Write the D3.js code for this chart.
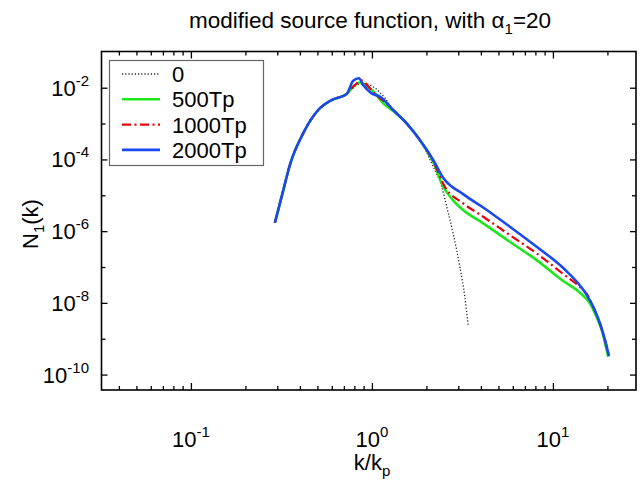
<!DOCTYPE html>
<html><head><meta charset="utf-8">
<script src="https://cdn.jsdelivr.net/npm/d3@7"></script>
<style>body{margin:0;background:#fff}svg{display:block}text{font-family:"Liberation Sans",Arial,sans-serif;fill:#000}</style>
</head><body><svg id="c" width="644" height="482"></svg>
<script>
// ---- data ----
const seriesNames = ["0", "500Tp", "1000Tp", "2000Tp"];
const kLeft = [0.291, 0.324, 0.352, 0.417, 0.505, 0.599, 0.725];
const nLeft = [1.71e-6, 1.40e-5, 6.98e-5, 5.35e-4, 2.39e-3, 4.54e-3, 6.67e-3];

const k0 = [0.776, 0.859, 0.927, 1.039, 1.18, 1.311, 1.555, 1.841, 2.181, 2.43, 2.59, 2.81, 3.06, 3.26, 3.40];
const n0 = [9.2e-3, 1.27e-2, 1.27e-2, 9.8e-3, 5.16e-3, 2.39e-3, 1.02e-3, 3.48e-4, 6.25e-5, 1.73e-5, 4.80e-6, 8.69e-7, 1.02e-7, 1.48e-8, 2.40e-9];

const k500 = [0.776, 0.859, 0.927, 1.0, 1.155, 1.311, 1.555, 1.841, 2.181, 2.48, 2.80, 3.19, 4.12, 5.78, 8.13, 11.4, 14.1, 16.0, 17.4, 18.6, 20.2];
const n500 = [9.8e-3, 1.40e-2, 1.11e-2, 8.63e-3, 3.67e-3, 2.24e-3, 1.02e-3, 3.48e-4, 8.46e-5, 1.73e-5, 7.37e-6, 3.88e-6, 1.65e-6, 5.06e-7, 1.56e-7, 4.06e-8, 1.92e-8, 9.7e-9, 4.09e-9, 1.74e-9, 3.14e-10];

const k1000 = [0.756, 0.816, 0.881, 0.950, 1.039, 1.18, 1.311, 1.555, 1.841, 2.181, 2.53, 3.19, 4.12, 5.78, 8.13, 11.4, 14.1, 15.4, 16.7, 18.2, 19.4, 20.4];
const n1000 = [8.63e-3, 1.27e-2, 1.59e-2, 1.11e-2, 6.67e-3, 3.99e-3, 2.39e-3, 1.02e-3, 3.48e-4, 9.02e-5, 1.73e-5, 5.96e-6, 2.52e-6, 7.78e-7, 2.40e-7, 6.36e-8, 2.76e-8, 1.76e-8, 7.78e-9, 2.68e-9, 9.16e-10, 3.28e-10];

const k2000 = [0.788, 0.848, 0.895, 0.996, 1.107, 1.311, 1.555, 1.841, 2.181, 2.48, 3.19, 4.12, 5.78, 8.13, 11.4, 15.0, 16.7, 18.2, 19.4, 20.4];
const n2000 = [1.57e-2, 1.83e-2, 1.19e-2, 6.98e-3, 5.61e-3, 2.39e-3, 1.02e-3, 3.48e-4, 9.62e-5, 3.03e-5, 1.08e-5, 4.55e-6, 1.33e-6, 3.67e-7, 9.35e-8, 2.00e-8, 7.78e-9, 2.68e-9, 9.16e-10, 3.28e-10];

const xMajor = [0.1, 1, 10];
const xMajorExp = ["-1", "0", "1"];
const yMajor = [1e-2, 1e-4, 1e-6, 1e-8, 1e-10];
const yMajorExp = ["-2", "-4", "-6", "-8", "-10"];
const yMinor = [1e-3, 1e-5, 1e-7, 1e-9];

// ---- layout ----
const L = 101.5, R = 636, T = 51.5, B = 390;
const svg = d3.select("#c");
const x = d3.scaleLog().domain([Math.pow(10, -1.494), Math.pow(10, 1.459)]).range([L, R]);
const y = d3.scaleLog().domain([Math.pow(10, -10.43), Math.pow(10, -0.99)]).range([B, T]);

const xMinor = [];
[0.01, 0.1, 1, 10].forEach(d => { for (let i = 2; i <= 9; i++) { const v = d * i; if (v > x.domain()[0] && v < x.domain()[1]) xMinor.push(v); } });

function axis(gen, tr) {
  const g = svg.append("g").attr("transform", tr).call(gen);
  g.select(".domain").remove();
  g.selectAll("text").remove();
  g.selectAll("line").attr("stroke", "#000").attr("stroke-width", 1.3);
  return g;
}
axis(d3.axisBottom(x).tickValues(xMajor).tickSize(-7), `translate(0,${B})`);
axis(d3.axisBottom(x).tickValues(xMinor).tickSize(-4), `translate(0,${B})`);
axis(d3.axisTop(x).tickValues(xMajor).tickSize(-7), `translate(0,${T})`);
axis(d3.axisTop(x).tickValues(xMinor).tickSize(-4), `translate(0,${T})`);
axis(d3.axisLeft(y).tickValues(yMajor).tickSize(-6), `translate(${L},0)`);
axis(d3.axisLeft(y).tickValues(yMinor).tickSize(-4), `translate(${L},0)`);
axis(d3.axisRight(y).tickValues(yMajor).tickSize(-6), `translate(${R},0)`);
axis(d3.axisRight(y).tickValues(yMinor).tickSize(-4), `translate(${R},0)`);

// lines
const line = d3.line().x(d => x(d[0])).y(d => y(d[1])).curve(d3.curveMonotoneX);
function pts(ks, ns) { return kLeft.map((k, i) => [k, nLeft[i]]).concat(ks.map((k, i) => [k, ns[i]])); }
const styles = [
  {k: k0, n: n0, color: "#222", w: 1.3, dash: "1.2,2"},
  {k: k500, n: n500, color: "#1ee61e", w: 2.6, dash: null},
  {k: k1000, n: n1000, color: "#e8000b", w: 2.2, dash: "9,3.5,2,3.5"},
  {k: k2000, n: n2000, color: "#1a47ee", w: 2.6, dash: null}
];
styles.forEach(s => {
  svg.append("path").datum(pts(s.k, s.n)).attr("d", line)
    .attr("fill", "none").attr("stroke", s.color).attr("stroke-width", s.w)
    .attr("stroke-dasharray", s.dash).attr("stroke-linejoin", "round");
});

// frame
svg.append("rect").attr("x", L).attr("y", T).attr("width", R - L).attr("height", B - T)
  .attr("fill", "none").attr("stroke", "#000").attr("stroke-width", 1.6);

// tick labels
xMajor.forEach((v, i) => {
  const t = svg.append("text").attr("x", x(v)).attr("y", 447).attr("text-anchor", "middle").attr("font-size", 22);
  t.append("tspan").text("10");
  t.append("tspan").attr("dy", -10).attr("font-size", 15).text(xMajorExp[i]);
});
yMajor.forEach((v, i) => {
  const t = svg.append("text").attr("x", 89).attr("y", y(v) + 8).attr("text-anchor", "end").attr("font-size", 22);
  t.append("tspan").text("10");
  t.append("tspan").attr("dy", -10).attr("font-size", 15).text(yMajorExp[i]);
});

// axis titles
const xl = svg.append("text").attr("x", 372).attr("y", 470).attr("text-anchor", "middle").attr("font-size", 22);
xl.append("tspan").text("k/k");
xl.append("tspan").attr("dy", 6).attr("font-size", 15).text("p");

const yl = svg.append("text").attr("transform", "translate(38,224) rotate(-90)").attr("text-anchor", "middle").attr("font-size", 22);
yl.append("tspan").text("N");
yl.append("tspan").attr("dy", 6).attr("font-size", 15).text("1");
yl.append("tspan").attr("dy", -6).text("(k)");

// title
const tt = svg.append("text").attr("x", 370).attr("y", 28).attr("text-anchor", "middle").attr("font-size", 22.5);
tt.append("tspan").text("modified source function, with \u03B1");
tt.append("tspan").attr("dy", 6).attr("font-size", 15).text("1");
tt.append("tspan").attr("dy", -6).text("=20");

// legend
svg.append("rect").attr("x", 109.5).attr("y", 60.5).attr("width", 154).attr("height", 105)
  .attr("fill", "#fff").attr("stroke", "#666").attr("stroke-width", 1.2);
seriesNames.forEach((name, i) => {
  const yy = 74 + i * 25.3, s = styles[i];
  svg.append("line").attr("x1", 122).attr("x2", 160).attr("y1", yy).attr("y2", yy)
    .attr("stroke", s.color).attr("stroke-width", s.w).attr("stroke-dasharray", s.dash);
  svg.append("text").attr("x", 172).attr("y", yy + 8).attr("font-size", 22).text(name);
});
</script></body></html>
